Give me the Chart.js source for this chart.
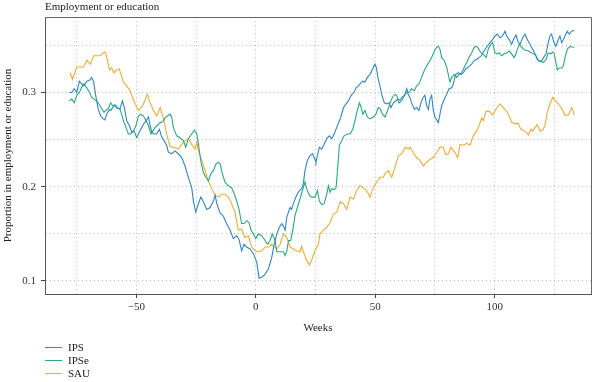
<!DOCTYPE html>
<html>
<head>
<meta charset="utf-8">
<script src="https://cdn.jsdelivr.net/npm/chart.js@4/dist/chart.umd.min.js"></script>
<style>
  html, body { margin: 0; padding: 0; background: #ffffff; }
  #wrap { position: relative; width: 600px; height: 382px; font-family: "Liberation Serif", "DejaVu Serif", serif; color: #222; }
  #chart { position: absolute; left: 0; top: 0; }
  #title { position: absolute; left: 45px; top: 0px; font-size: 11px; line-height: 13px; white-space: nowrap; }
  .leg { position: absolute; left: 45px; height: 13px; font-size: 11px; line-height: 13px; white-space: nowrap; }
  .leg span.ln { display: inline-block; width: 17px; height: 0; border-top: 1.5px solid; vertical-align: middle; margin-right: 6px; position: relative; top: -1px; }
</style>
</head>
<body>
<div id="wrap">
  <canvas id="chart" width="600" height="382"></canvas>
  <div id="title">Employment or education</div>
  <div id="legend"></div>
</div>
<script>
// ---- data ----
const seriesNames = ["IPS", "IPSe", "SAU"];
const seriesColors = ["#2f86cc", "#27ad7a", "#f2ab35"];

const ipsWeeks = [-78.0,-77.0,-76.0,-74.9,-73.8,-72.8,-71.9,-70.7,-69.6,-68.7,-67.9,-67.0,-65.9,-64.9,-63.8,-63.1,-62.4,-61.3,-60.7,-59.6,-58.9,-57.9,-56.8,-55.8,-55.0,-54.0,-52.9,-51.9,-50.9,-49.8,-48.7,-47.7,-46.8,-45.9,-44.9,-44.2,-43.5,-42.6,-41.5,-40.3,-39.4,-38.4,-37.3,-36.6,-35.2,-33.8,-32.4,-31.0,-29.6,-28.2,-26.8,-26.1,-25.1,-24.0,-23.0,-21.9,-20.5,-19.1,-17.7,-17.0,-16.3,-14.9,-13.6,-12.2,-10.8,-9.4,-8.0,-7.0,-5.9,-4.9,-3.8,-2.4,-1.0,0.4,1.4,2.5,3.9,5.3,6.7,7.7,8.8,9.9,10.9,11.8,12.3,13.0,14.4,15.0,16.0,17.1,18.3,19.2,19.9,20.6,21.6,22.7,23.8,24.8,25.2,25.8,26.6,27.6,28.6,29.7,30.8,31.8,32.8,33.9,35.0,35.6,36.7,37.8,38.8,39.5,40.2,41.1,42.0,43.0,43.9,44.8,45.7,46.7,47.8,48.9,49.9,50.5,51.2,51.8,52.7,53.8,54.8,55.8,56.6,57.6,58.5,59.4,60.4,61.3,62.2,63.2,63.9,64.5,65.2,66.4,67.3,68.3,69.1,70.1,70.8,71.5,72.2,72.9,73.6,74.3,75.0,75.7,76.4,77.1,77.8,78.9,79.9,80.9,82.0,82.7,83.6,84.8,85.9,86.9,87.8,89.0,90.3,91.5,92.4,93.4,94.5,95.5,96.6,98.0,99.1,100.1,101.1,102.2,103.3,104.3,105.0,106.1,107.1,107.8,108.9,109.9,110.6,111.7,112.7,113.7,114.8,115.9,116.9,117.8,118.7,119.7,120.4,121.5,122.4,123.1,123.8,124.8,125.6,126.6,127.3,128.0,128.7,129.8,130.4,131.2,132.2,133.3];
const ipsValues = [0.300,0.300,0.304,0.300,0.312,0.309,0.307,0.312,0.313,0.316,0.312,0.297,0.282,0.275,0.272,0.271,0.277,0.282,0.281,0.285,0.286,0.283,0.283,0.291,0.284,0.270,0.265,0.258,0.259,0.252,0.258,0.263,0.267,0.270,0.274,0.265,0.258,0.256,0.256,0.261,0.253,0.249,0.244,0.237,0.235,0.238,0.235,0.231,0.222,0.210,0.199,0.185,0.173,0.182,0.189,0.184,0.176,0.178,0.185,0.191,0.182,0.172,0.169,0.161,0.154,0.145,0.148,0.144,0.132,0.139,0.136,0.134,0.129,0.120,0.103,0.104,0.107,0.113,0.125,0.139,0.150,0.157,0.161,0.157,0.154,0.168,0.178,0.176,0.184,0.191,0.196,0.198,0.203,0.217,0.228,0.233,0.235,0.229,0.226,0.233,0.242,0.240,0.245,0.251,0.254,0.251,0.256,0.263,0.270,0.274,0.284,0.288,0.291,0.295,0.298,0.300,0.305,0.307,0.310,0.312,0.311,0.316,0.319,0.325,0.330,0.326,0.315,0.309,0.298,0.289,0.288,0.289,0.284,0.289,0.291,0.293,0.292,0.295,0.297,0.304,0.297,0.295,0.289,0.282,0.284,0.281,0.289,0.295,0.297,0.286,0.282,0.293,0.297,0.281,0.274,0.271,0.268,0.277,0.286,0.293,0.298,0.304,0.305,0.309,0.319,0.321,0.319,0.321,0.325,0.327,0.330,0.334,0.335,0.337,0.339,0.344,0.348,0.353,0.356,0.360,0.362,0.358,0.360,0.365,0.360,0.356,0.351,0.356,0.361,0.353,0.351,0.358,0.362,0.356,0.351,0.346,0.341,0.335,0.333,0.334,0.337,0.341,0.353,0.360,0.362,0.353,0.349,0.356,0.360,0.353,0.356,0.362,0.365,0.362,0.365,0.366];

const ipseWeeks = [-78.0,-77.0,-76.0,-74.9,-73.8,-72.8,-71.9,-70.7,-69.6,-68.7,-67.7,-66.6,-65.4,-64.5,-63.5,-62.7,-61.7,-60.7,-59.9,-58.9,-57.9,-56.8,-56.1,-55.4,-54.3,-53.3,-52.3,-51.2,-50.1,-49.1,-48.2,-47.0,-45.9,-44.9,-43.9,-43.1,-42.1,-41.2,-40.1,-38.9,-38.0,-37.0,-35.9,-35.2,-34.5,-33.1,-31.7,-30.3,-29.3,-28.2,-26.8,-25.7,-24.7,-24.0,-22.9,-21.9,-20.9,-19.8,-18.8,-17.7,-16.7,-15.6,-14.9,-14.0,-12.9,-11.5,-10.1,-8.9,-8.0,-7.0,-5.9,-4.8,-3.8,-2.8,-2.0,-1.0,0.0,1.1,2.5,3.9,5.0,6.0,6.9,8.1,8.8,10.2,11.6,12.3,13.0,13.7,14.6,15.5,16.4,17.4,18.5,19.9,20.6,21.3,22.4,23.4,24.8,25.8,26.6,27.6,28.6,29.7,30.4,31.1,31.8,32.8,33.6,34.2,35.0,36.0,37.0,38.3,39.5,40.6,41.5,42.5,43.4,43.9,44.8,45.7,46.7,47.8,49.2,50.3,51.2,52.0,53.0,54.1,55.2,56.2,57.2,58.3,59.0,59.9,61.1,62.2,63.2,64.1,65.2,66.4,67.3,68.3,69.4,70.5,71.5,72.5,73.6,74.7,75.7,76.4,77.1,77.8,78.9,79.9,80.6,81.3,82.0,83.1,84.1,85.0,86.2,87.3,88.3,89.2,90.3,91.5,92.4,93.4,94.2,95.5,96.4,97.3,98.3,99.1,100.1,101.1,101.9,102.9,103.9,105.0,106.1,107.1,108.1,108.9,109.5,110.3,111.3,112.7,114.1,115.5,116.4,117.3,118.3,119.2,120.4,121.5,122.4,123.4,124.3,124.8,125.6,126.2,127.0,128.0,128.7,129.4,130.4,131.5,132.6,133.3];
const ipseValues = [0.291,0.293,0.289,0.297,0.300,0.306,0.309,0.305,0.300,0.295,0.293,0.291,0.287,0.283,0.279,0.281,0.283,0.289,0.286,0.287,0.284,0.282,0.277,0.270,0.263,0.256,0.256,0.259,0.265,0.275,0.277,0.275,0.270,0.265,0.256,0.259,0.263,0.265,0.268,0.269,0.273,0.275,0.277,0.274,0.263,0.254,0.252,0.249,0.242,0.251,0.256,0.260,0.256,0.245,0.226,0.215,0.210,0.206,0.214,0.217,0.224,0.226,0.224,0.214,0.205,0.201,0.199,0.192,0.185,0.176,0.161,0.161,0.164,0.162,0.154,0.150,0.145,0.150,0.148,0.143,0.139,0.143,0.150,0.143,0.131,0.131,0.131,0.127,0.132,0.143,0.143,0.154,0.169,0.178,0.187,0.199,0.205,0.198,0.191,0.189,0.189,0.196,0.185,0.181,0.182,0.192,0.201,0.194,0.198,0.197,0.199,0.217,0.244,0.249,0.254,0.256,0.256,0.261,0.270,0.281,0.289,0.286,0.277,0.281,0.274,0.272,0.274,0.277,0.284,0.283,0.277,0.274,0.281,0.289,0.295,0.298,0.297,0.289,0.291,0.297,0.300,0.300,0.304,0.302,0.307,0.309,0.316,0.323,0.328,0.332,0.337,0.344,0.348,0.349,0.346,0.337,0.334,0.327,0.319,0.311,0.316,0.319,0.316,0.319,0.321,0.327,0.332,0.337,0.342,0.348,0.349,0.346,0.342,0.340,0.337,0.346,0.351,0.353,0.342,0.341,0.342,0.339,0.341,0.342,0.344,0.341,0.337,0.341,0.346,0.351,0.348,0.345,0.344,0.342,0.341,0.339,0.334,0.333,0.332,0.335,0.342,0.341,0.343,0.342,0.332,0.324,0.326,0.326,0.328,0.337,0.346,0.349,0.348,0.348];

const sauWeeks = [-77.7,-76.7,-74.9,-72.1,-70.7,-69.1,-67.9,-65.1,-63.3,-62.8,-61.2,-60.3,-59.3,-58.2,-57.1,-55.4,-54.0,-52.6,-51.0,-49.1,-47.3,-45.4,-44.2,-42.8,-41.4,-40.0,-38.6,-37.3,-35.9,-34.5,-32.4,-31.0,-29.6,-28.2,-26.8,-25.4,-24.7,-24.0,-22.6,-21.2,-19.8,-18.4,-17.0,-15.6,-14.2,-12.8,-11.5,-10.1,-8.7,-7.3,-5.9,-4.5,-3.1,-1.7,-0.3,1.1,2.5,3.9,5.3,6.6,8.0,8.8,10.2,11.6,13.0,14.4,15.7,17.1,18.5,19.2,19.9,21.3,22.4,23.4,24.8,26.2,26.9,28.3,29.7,31.1,32.5,33.9,35.3,36.7,38.1,39.5,40.9,42.2,43.6,45.0,46.4,47.8,49.2,50.6,52.0,53.4,54.1,55.5,56.9,58.3,59.7,61.1,62.5,63.9,64.5,65.9,67.3,68.7,70.1,71.5,72.9,74.3,75.7,77.1,78.5,79.5,80.6,81.7,83.4,84.5,85.5,86.9,88.3,89.7,91.0,92.4,93.8,94.5,95.2,96.4,97.8,99.1,100.5,102.2,103.6,105.0,106.4,107.1,108.5,109.9,110.9,112.0,113.1,114.1,115.1,115.9,116.9,117.8,119.0,120.1,121.0,122.0,123.1,124.3,125.2,126.6,128.0,129.4,130.8,132.2,132.9,133.3];
const sauValues = [0.321,0.314,0.327,0.327,0.334,0.330,0.339,0.339,0.343,0.342,0.324,0.326,0.321,0.324,0.325,0.311,0.307,0.302,0.291,0.281,0.286,0.298,0.289,0.281,0.275,0.284,0.272,0.256,0.243,0.242,0.240,0.245,0.249,0.251,0.245,0.240,0.247,0.238,0.228,0.217,0.206,0.198,0.191,0.189,0.192,0.192,0.189,0.182,0.173,0.154,0.155,0.146,0.148,0.136,0.132,0.131,0.132,0.136,0.136,0.139,0.136,0.134,0.139,0.150,0.146,0.136,0.134,0.132,0.131,0.137,0.131,0.122,0.117,0.122,0.132,0.139,0.150,0.154,0.157,0.162,0.171,0.173,0.184,0.182,0.176,0.189,0.187,0.196,0.201,0.199,0.196,0.189,0.199,0.205,0.210,0.210,0.214,0.217,0.210,0.221,0.233,0.235,0.242,0.240,0.242,0.236,0.231,0.228,0.222,0.226,0.229,0.231,0.236,0.242,0.242,0.234,0.235,0.242,0.236,0.231,0.245,0.244,0.246,0.244,0.254,0.259,0.267,0.273,0.270,0.280,0.280,0.276,0.282,0.288,0.284,0.280,0.273,0.268,0.267,0.267,0.261,0.260,0.258,0.255,0.261,0.259,0.263,0.266,0.259,0.260,0.265,0.279,0.288,0.295,0.292,0.288,0.283,0.276,0.276,0.284,0.280,0.276];

// axis labels / ticks
const chartTitle = "Employment or education";
const xAxisTitle = "Weeks";
const yAxisTitle = "Proportion in employment or education";
const xMajorTicks = [-50, 0, 50, 100];
const yMajorTicks = [0.1, 0.2, 0.3];

// ---- build ----
const seriesWeeks = [ipsWeeks, ipseWeeks, sauWeeks];
const seriesValues = [ipsValues, ipseValues, sauValues];

const serif = "'Liberation Serif', 'DejaVu Serif', serif";
const gridColor = "#bdbdbd";
const isMajor = (v, list) => list.some(m => Math.abs(m - v) < 1e-6);

const datasets = seriesNames.map((name, i) => ({
  label: name,
  data: seriesWeeks[i].map((w, j) => ({ x: w, y: seriesValues[i][j] })),
  borderColor: seriesColors[i],
  backgroundColor: seriesColors[i],
  borderWidth: 1.1,
  pointRadius: 0,
  tension: 0,
  fill: false
}));

const framePlugin = {
  id: 'frame',
  afterDraw(chart) {
    const { ctx, chartArea: a } = chart;
    ctx.save();
    ctx.strokeStyle = '#666';
    ctx.lineWidth = 1;
    ctx.beginPath();
    ctx.moveTo(a.left, a.top + 0.5);
    ctx.lineTo(a.right + 0.5, a.top + 0.5);
    ctx.lineTo(a.right + 0.5, a.bottom);
    ctx.stroke();
    ctx.restore();
  }
};

new Chart(document.getElementById('chart'), {
  type: 'line',
  data: { datasets },
  plugins: [framePlugin],
  options: {
    responsive: false,
    animation: false,
    devicePixelRatio: 1,
    layout: { padding: { top: 17, right: 9, bottom: 45.4, left: 0 } },
    plugins: {
      legend: { display: false },
      title: { display: false },
      tooltip: { enabled: false }
    },
    scales: {
      x: {
        type: 'linear',
        min: -88.2,
        max: 140.3,
        afterFit: (s) => { s.height = 42.6; },
        ticks: {
          stepSize: 25,
          includeBounds: false,
          autoSkip: false,
          maxRotation: 0,
          padding: 3,
          color: '#333',
          font: { family: serif, size: 11 },
          callback: (v) => isMajor(v, xMajorTicks) ? (v < 0 ? '\u2212' + Math.abs(v) : String(v)) : ''
        },
        grid: {
          color: gridColor,
          lineWidth: 1,
          drawTicks: true,
          tickLength: 4,
          tickWidth: 1,
          tickBorderDash: [],
          tickColor: (c) => (c.tick && isMajor(c.tick.value, xMajorTicks)) ? '#444' : 'rgba(0,0,0,0)'
        },
        border: { display: true, color: '#555', width: 1, dash: [1, 3] },
        title: {
          display: true,
          text: xAxisTitle,
          color: '#222',
          font: { family: serif, size: 11 },
          padding: { top: 2, bottom: 2 }
        }
      },
      y: {
        type: 'linear',
        min: 0.0862,
        max: 0.3801,
        afterFit: (s) => { s.width = 45; },
        ticks: {
          stepSize: 0.05,
          includeBounds: false,
          autoSkip: false,
          padding: 5,
          color: '#333',
          font: { family: serif, size: 11 },
          callback: (v) => isMajor(v, yMajorTicks) ? v.toFixed(1) : ''
        },
        grid: {
          color: gridColor,
          lineWidth: 1,
          drawTicks: true,
          tickLength: 4,
          tickWidth: 1,
          tickBorderDash: [],
          tickColor: (c) => (c.tick && isMajor(c.tick.value, yMajorTicks)) ? '#444' : 'rgba(0,0,0,0)'
        },
        border: { display: true, color: '#555', width: 1, dash: [1, 3] },
        title: {
          display: true,
          text: yAxisTitle,
          color: '#222',
          font: { family: serif, size: 11 },
          padding: { top: 2, bottom: 2 }
        }
      }
    }
  }
});

// title & legend as real text
document.getElementById('title').textContent = chartTitle;
const legendEl = document.getElementById('legend');
const legendTops = [341, 354, 367];
seriesNames.forEach((name, i) => {
  const d = document.createElement('div');
  d.className = 'leg';
  d.style.top = legendTops[i] + 'px';
  const ln = document.createElement('span');
  ln.className = 'ln';
  ln.style.borderTopColor = seriesColors[i];
  d.appendChild(ln);
  d.appendChild(document.createTextNode(name));
  legendEl.appendChild(d);
});
</script>
</body>
</html>
